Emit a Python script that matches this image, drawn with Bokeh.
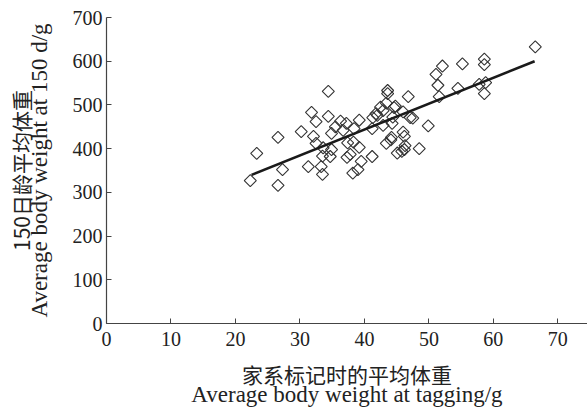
import numpy as np
from bokeh.plotting import figure
from bokeh.models import Range1d, FixedTicker, ColumnDataSource, LinearAxis
from bokeh.embed import file_html
from bokeh.resources import INLINE

# Data
tag_weight = [22.3, 23.3, 26.6, 27.3, 26.6, 30.2, 31.8, 32.5, 34.4, 34.4,
              32.1, 32.5, 31.3, 33.3, 33.5, 33.6, 34.9, 34.9, 34.7, 35.5,
              36.3, 37.2, 36.7, 37.4, 37.3, 39.2, 38.4, 38.3, 39.2, 37.8,
              39.5, 38.2, 39.0, 41.2, 41.2, 42.0, 41.3, 43.6, 43.6, 43.4,
              42.9, 44.6, 44.4, 44.3, 42.9, 46.0, 46.8, 47.1, 46.0, 44.2,
              43.4, 46.2, 46.3, 45.1, 45.8, 66.5, 58.6, 58.6, 55.2, 52.1,
              51.1, 51.4, 51.6, 54.5, 57.8, 58.8, 58.6, 47.5, 49.9, 48.5,
              46.2, 42.5, 41.8, 44.8, 44.1, 33.5]
weight_150d = [327, 389, 426, 352, 316, 439, 483, 462, 531, 474,
               428, 412, 359, 359, 341, 402, 435, 398, 382, 450,
               463, 458, 442, 413, 380, 465, 446, 415, 403, 387,
               371, 344, 352, 382, 446, 476, 471, 533, 526, 504,
               487, 494, 472, 458, 453, 484, 519, 471, 438, 426,
               412, 428, 407, 390, 394, 633, 605, 592, 594, 589,
               570, 545, 519, 538, 547, 551, 526, 470, 452, 400,
               398, 495, 480, 497, 420, 383]
fit_x = [22.5, 66.4]
fit_y = [340, 600]
x_ticks = [0, 10, 20, 30, 40, 50, 60, 70]
y_ticks = [0, 100, 200, 300, 400, 500, 600, 700]
x_title_cn = "家系标记时的平均体重"
x_title_en = "Average body weight at tagging/g"
y_title_cn = "150日龄平均体重"
y_title_en = "Average body weight at 150 d/g"

SERIF = "Liberation Serif"
CJK = "Noto Sans CJK SC"
TXT = "#222222"

p = figure(width=587, height=412, output_backend="svg", toolbar_location=None,
           x_range=Range1d(0, 74.6), y_range=Range1d(0, 700),
           min_border_left=106, min_border_right=0, min_border_top=17,
           min_border_bottom=89)
p.outline_line_color = None
p.grid.visible = False

src = ColumnDataSource(dict(x=tag_weight, y=weight_150d))
p.scatter("x", "y", source=src, marker="square", size=8.5, angle=np.pi / 4,
          fill_alpha=0, line_color="#333333", line_width=1.1)
p.line(fit_x, fit_y, line_color="#1a1a1a", line_width=2.6)

xa = p.xaxis[0]
ya = p.yaxis[0]
for ax in (xa, ya):
    ax.axis_line_color = "#444444"
    ax.axis_line_width = 1.2
    ax.major_tick_line_color = "#444444"
    ax.major_tick_in = 5
    ax.major_tick_out = 0
    ax.minor_tick_line_color = None
    ax.major_label_text_font = SERIF
    ax.major_label_text_font_size = "20px"
    ax.major_label_text_color = TXT

xa.ticker = FixedTicker(ticks=x_ticks)
ya.ticker = FixedTicker(ticks=y_ticks)
xa.major_label_standoff = 8
ya.major_label_standoff = 4


def title_axis(label, font, size, standoff):
    a = LinearAxis(ticker=FixedTicker(ticks=[]), axis_label=label)
    a.axis_line_color = None
    a.major_tick_line_color = None
    a.minor_tick_line_color = None
    a.major_tick_in = 0
    a.major_tick_out = 0
    a.major_label_text_font_size = "0px"
    a.major_label_standoff = 0
    a.axis_label_text_font = font
    a.axis_label_text_font_size = size
    a.axis_label_text_font_style = "normal"
    a.axis_label_text_color = TXT
    a.axis_label_standoff = standoff
    return a


p.add_layout(title_axis(x_title_cn, CJK, "21px", 10), "below")
p.add_layout(title_axis(x_title_en, SERIF, "23px", -10), "below")
p.add_layout(title_axis(y_title_en, SERIF, "23px", 18), "left")
p.add_layout(title_axis(y_title_cn, CJK, "21px", -12), "left")

open("out.html", "w").write(file_html(p, INLINE))
